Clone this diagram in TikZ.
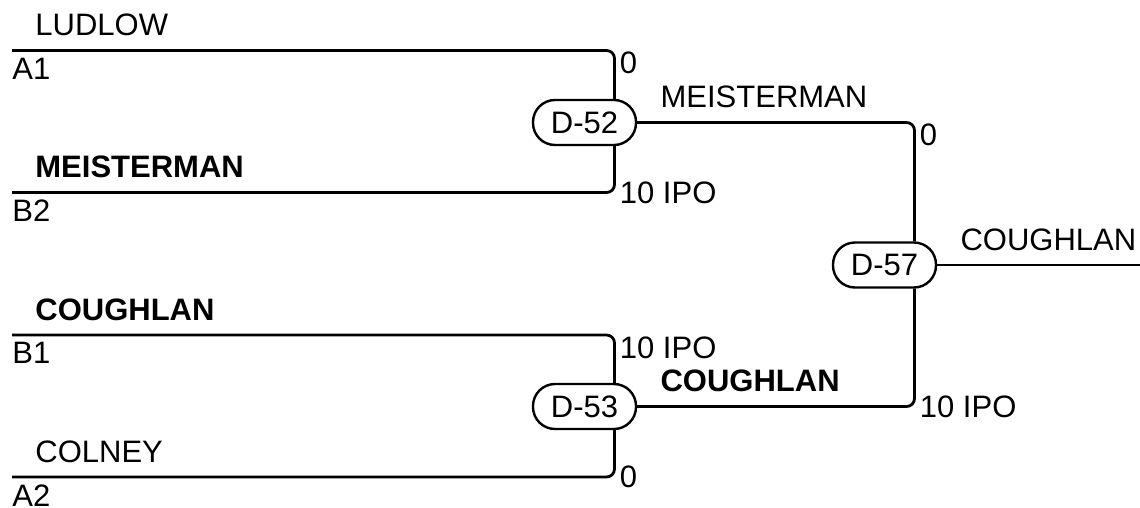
\documentclass[tikz,border=0pt]{standalone}
\usepackage{fontspec}
\setmainfont{Liberation Sans}
\usetikzlibrary{calc, positioning}
\tikzstyle{line} = [line width=1.4pt, rounded corners=4pt]
\tikzstyle{game} = [rectangle, rounded corners=11pt, minimum width=51.5pt, minimum height=22.5pt, inner sep=0pt, text centered, draw=black, line width=1.2pt, fill=white]

\begin{document}
\begin{tikzpicture}[x=0.5pt, y=-0.5pt,
        team/.style={inner sep=0pt},
        seed/.style={inner sep=0pt},
        score/.style={inner sep=0pt},
        every node/.style={font=\fontsize{15.5}{18}\selectfont}]

    \useasboundingbox (0,0) rectangle (1140,508);

    \node [game] (d52) at (584.5,122.5) {D-52};
    \node [game] (d53) at (584.5,406.5) {D-53};
    \node [game] (d57) at (884.5,265) {D-57};

    \coordinate (a1) at (12,50.5);
    \coordinate (b2) at (12,192.5);
    \coordinate (b1) at (12,335);
    \coordinate (a2) at (12,477);
    \coordinate (win) at (1140,265);
    \coordinate (j52) at ([xshift=15pt]d52.center);
    \coordinate (j53) at ([xshift=15pt]d53.center);
    \coordinate (j57) at ([xshift=15pt]d57.center);
    \coordinate (c52a) at (j52 |- a1);
    \coordinate (c52b) at (j52 |- b2);
    \coordinate (c53a) at (j53 |- b1);
    \coordinate (c53b) at (j53 |- a2);
    \coordinate (c57a) at (j57 |- d52.east);
    \coordinate (c57b) at (j57 |- d53.east);

    \draw[line] (a1) -| (j52 |- d52.north);
    \draw[line] (b2) -| (j52 |- d52.south);
    \draw[line] (b1) -| (j53 |- d53.north);
    \draw[line] (a2) -| (j53 |- d53.south);
    \draw[line] (d52.east) -| (j57 |- d57.north);
    \draw[line] (d53.east) -| (j57 |- d57.south);
    \draw[line] (d57.east) -- (win);

    \node [team, above right=7pt and 11.5pt of a1] (ludlow) {LUDLOW};
    \node [seed, below right=3.5pt and 0pt of a1] (seeda1) {A1};
    \node [team, above right=7pt and 11.5pt of b2] (meisterman) {\textbf{MEISTERMAN}};
    \node [seed, below right=3.5pt and 0pt of b2] (seedb2) {B2};
    \node [team, above right=7pt and 11.5pt of b1] (coughlan) {\textbf{COUGHLAN}};
    \node [seed, below right=3.5pt and 0pt of b1] (seedb1) {B1};
    \node [team, above right=7pt and 11.5pt of a2] (colney) {COLNEY};
    \node [seed, below right=3.5pt and 0pt of a2] (seeda2) {A2};

    \node [team, above right=7pt and 11.5pt of d52.east] (win52) {MEISTERMAN};
    \node [team, above right=7pt and 11.5pt of d53.east] (win53) {\textbf{COUGHLAN}};
    \node [team, above right=7pt and 11.5pt of d57.east] (win57) {COUGHLAN};

    \node [score, below right=0.5pt and 2.5pt of c52a] (sc52a) {0};
    \node [score, right=2.5pt of c52b] (sc52b) {10 IPO};
    \node [score, below right=0.5pt and 2.5pt of c53a] (sc53a) {10 IPO};
    \node [score, right=2.5pt of c53b] (sc53b) {0};
    \node [score, below right=0.5pt and 2.5pt of c57a] (sc57a) {0};
    \node [score, right=2.5pt of c57b] (sc57b) {10 IPO};
\end{tikzpicture}
\end{document}
